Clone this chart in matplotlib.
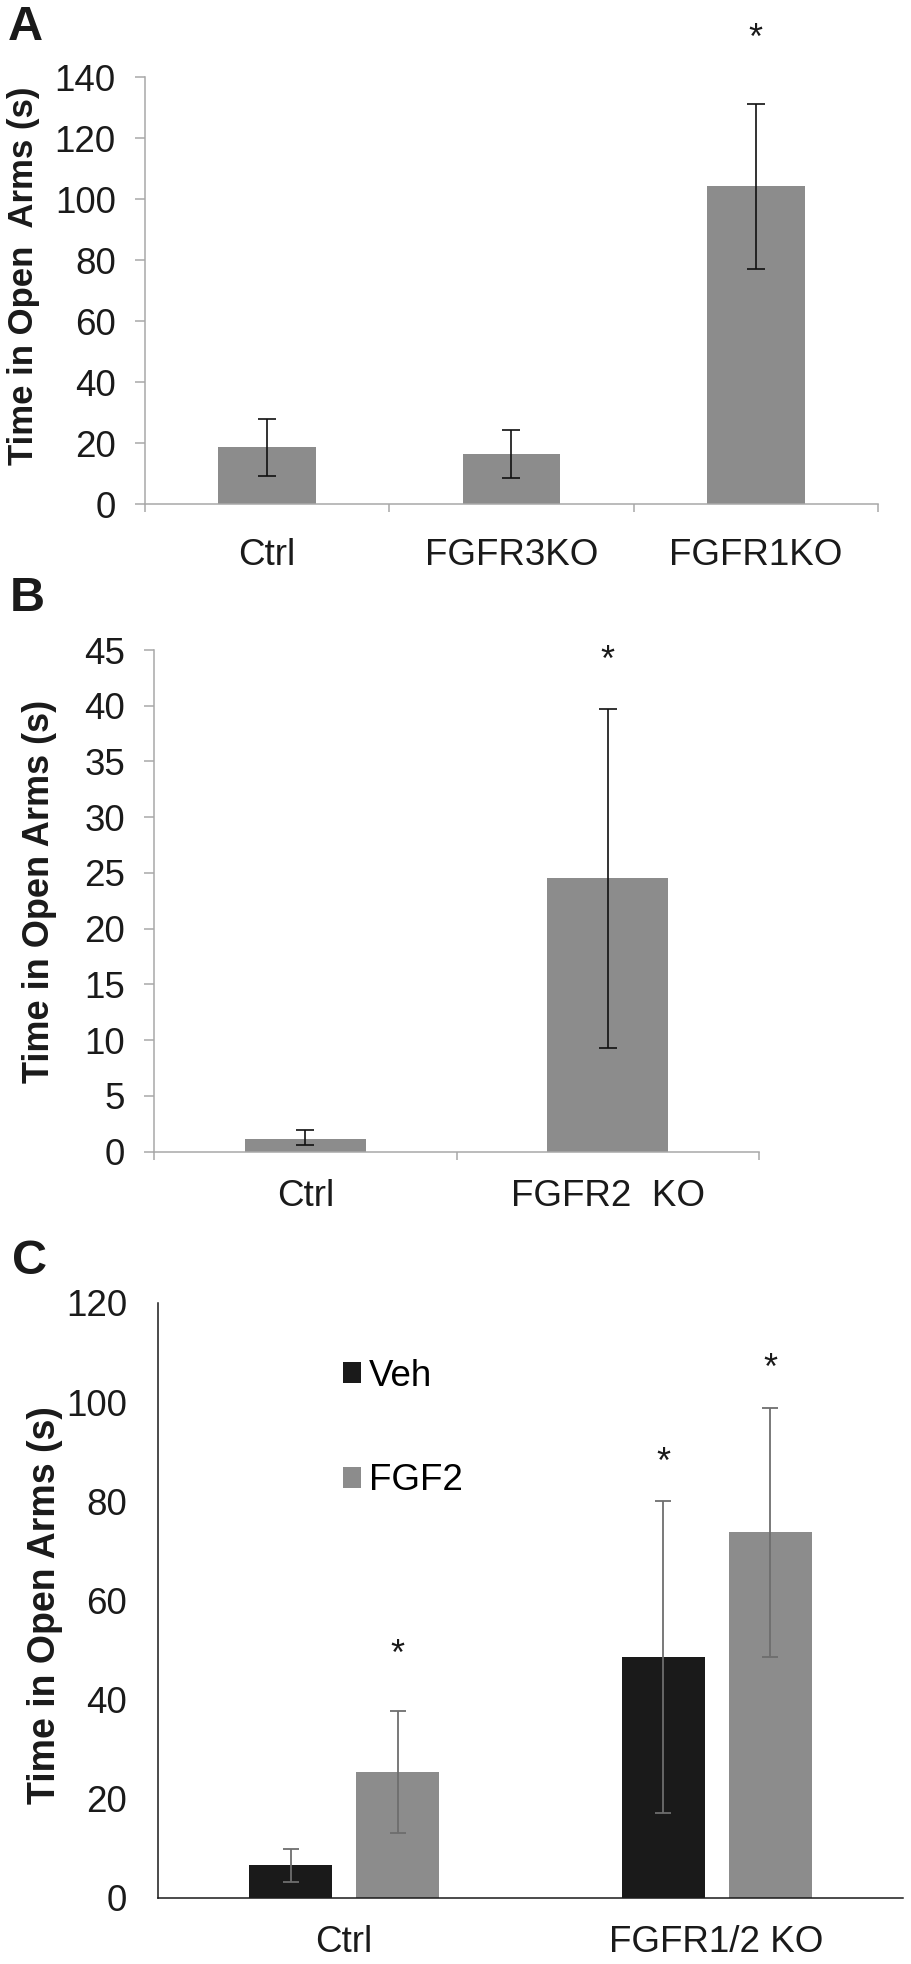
import matplotlib
matplotlib.use("Agg")
import matplotlib.pyplot as plt
import numpy as np

plt.rcParams['font.family'] = ['Liberation Sans', 'DejaVu Sans']

W, H = 911, 1964

# panel A
a_labels = ["Ctrl", "FGFR3KO", "FGFR1KO"]
a_means = [18.7, 16.5, 104.2]
a_err = [9.4, 7.9, 27.0]
a_star = [None, None, 154.6]

# panel B
b_labels = ["Ctrl", "FGFR2  KO"]
b_means = [1.15, 24.5]
b_err_lo = [0.57, 15.2]
b_err_hi = [0.8, 15.2]
b_star = [None, 44.6]

# panel C
c_labels = ["Ctrl", "FGFR1/2 KO"]
c_veh = [6.5, 48.6]
c_veh_err = [3.3, 31.5]
c_fgf2 = [25.4, 73.7]
c_fgf2_err = [12.3, 25.2]
c_veh_star = [None, 89.1]
c_fgf2_star = [50.4, 108.1]

gray = '#8c8c8c'
axcol = '#a8a8a8'
txt = '#1a1a1a'


def ax_at(l, r, t, b):
    return fig.add_axes([l / W, 1 - b / H, (r - l) / W, (b - t) / H])


def star(ax, x, y, size=26):
    ax.annotate('*', xy=(x, y), xytext=(0, -12), textcoords='offset points',
                ha='center', va='baseline', fontsize=size, color=txt,
                annotation_clip=False)


def gray_axes(ax, ncat):
    for s in ['top', 'right']:
        ax.spines[s].set_visible(False)
    for s in ['left', 'bottom']:
        ax.spines[s].set_color(axcol)
        ax.spines[s].set_linewidth(1.1)
    ax.set_xlim(-0.5, ncat - 0.5)
    ax.set_xticks(np.arange(-0.5, ncat, 1.0))
    ax.set_xticklabels([])
    ax.tick_params(axis='x', which='major', length=6, width=1.1, color=axcol, direction='out')
    ax.tick_params(axis='y', length=7, width=1.1, color=axcol, pad=14,
                   labelsize=26.5, labelcolor=txt)


def place_ylabel(ax, l, r, t, b, px, py):
    # px is the right edge of the rotated label, py its centre (pixels)
    ax.yaxis.set_label_coords((px - l) / (r - l), 1 - (py - t) / (b - t))


fig = plt.figure(figsize=(W / 100, H / 100), dpi=100)

# ---- A ----
boxA = (145, 878, 77.3, 504.3)
axA = ax_at(*boxA)
xA = np.arange(len(a_labels))
axA.bar(xA, a_means, width=0.4, color=gray, yerr=a_err, capsize=6.5,
        error_kw=dict(ecolor='#111111', elinewidth=1.2, capthick=1.2))
gray_axes(axA, 3)
axA.set_ylim(0, 140)
axA.set_yticks(range(0, 141, 20))
axA.set_xticks(xA, minor=True)
axA.set_xticklabels(a_labels, minor=True)
axA.tick_params(axis='x', which='minor', length=0, pad=24, labelsize=26.5, labelcolor=txt)
axA.set_ylabel("Time in Open  Arms (s)", fontsize=25, fontweight='bold', color=txt)
place_ylabel(axA, *boxA, 40, 276)
for x, s in zip(xA, a_star):
    if s is not None:
        star(axA, x, s)

# ---- B ----
boxB = (154.3, 759, 650, 1151.5)
axB = ax_at(*boxB)
xB = np.arange(len(b_labels))
axB.bar(xB, b_means, width=0.4, color=gray, yerr=[b_err_lo, b_err_hi], capsize=6.5,
        error_kw=dict(ecolor='#111111', elinewidth=1.2, capthick=1.2))
gray_axes(axB, 2)
axB.set_ylim(0, 45)
axB.set_yticks(range(0, 46, 5))
axB.set_xticks(xB, minor=True)
axB.set_xticklabels(b_labels, minor=True)
axB.tick_params(axis='x', which='minor', length=0, pad=20, labelsize=26.5, labelcolor=txt)
axB.set_ylabel("Time in Open Arms (s)", fontsize=26, fontweight='bold', color=txt)
place_ylabel(axB, *boxB, 57, 891)
for x, s in zip(xB, b_star):
    if s is not None:
        star(axB, x, s)

# ---- C ----
boxC = (157.7, 903, 1303, 1897.7)
axC = ax_at(*boxC)
xC = np.arange(len(c_labels))
bw = 0.223
off = 0.1436
axC.bar(xC - off, c_veh, width=bw, color='#1a1a1a', yerr=c_veh_err, capsize=6,
        error_kw=dict(ecolor='#6e6e6e', elinewidth=1.3, capthick=1.3), label='Veh')
axC.bar(xC + off, c_fgf2, width=bw, color=gray, yerr=c_fgf2_err, capsize=6,
        error_kw=dict(ecolor='#6e6e6e', elinewidth=1.3, capthick=1.3), label='FGF2')
for s in ['top', 'right']:
    axC.spines[s].set_visible(False)
for s in ['left', 'bottom']:
    axC.spines[s].set_color('#1a1a1a')
    axC.spines[s].set_linewidth(1.1)
axC.set_xlim(-0.5, 1.5)
axC.set_ylim(0, 120)
axC.set_yticks(range(0, 121, 20))
axC.set_xticks(xC)
axC.set_xticklabels(c_labels)
axC.tick_params(axis='x', length=0, pad=20, labelsize=26.5, labelcolor=txt)
axC.tick_params(axis='y', length=0, pad=22, labelsize=26.5, labelcolor=txt)
axC.set_ylabel("Time in Open Arms (s)", fontsize=27, fontweight='bold', color=txt)
place_ylabel(axC, *boxC, 63, 1605)
for x, s in zip(xC, c_veh_star):
    if s is not None:
        star(axC, x - off, s)
for x, s in zip(xC, c_fgf2_star):
    if s is not None:
        star(axC, x + off, s)
axC.legend(loc='upper left', bbox_to_anchor=(343 / W, 1 - 1359 / H),
           bbox_transform=fig.transFigure, frameon=False, fontsize=26.5,
           handlelength=0.5, handleheight=0.5, handletextpad=0.2,
           labelspacing=1.88, borderpad=0, borderaxespad=0)

# panel letters
for letter, (px, py) in zip("ABC", [(8, 5), (10, 576), (12, 1239)]):
    fig.text(px / W, 1 - py / H, letter, fontsize=35, fontweight='bold',
             ha='left', va='top', color=txt)

fig.savefig("out.png", dpi=100)
